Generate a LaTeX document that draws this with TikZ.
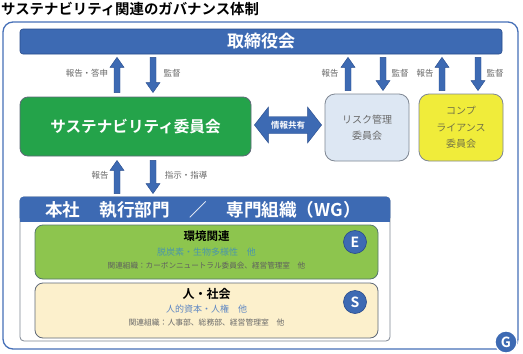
\documentclass[tikz,border=0pt]{standalone}
\usepackage{fontspec}
\setmainfont{Noto Sans CJK JP}[BoldFont={Noto Sans CJK JP Bold}]
\usetikzlibrary{calc}
\definecolor{barblue}{RGB}{61,106,179}
\definecolor{bardark}{RGB}{40,75,140}
\definecolor{framec}{RGB}{70,112,184}
\definecolor{susgreen}{RGB}{36,163,74}
\definecolor{envgreen}{RGB}{141,197,78}
\definecolor{cream}{RGB}{252,240,204}
\definecolor{risklb}{RGB}{221,231,243}
\definecolor{compy}{RGB}{240,236,58}
\definecolor{lblgray}{RGB}{105,105,105}
\definecolor{olivet}{RGB}{115,115,70}
\definecolor{tealt}{RGB}{75,150,170}
\definecolor{sblue}{RGB}{95,135,195}
\definecolor{boxedge}{RGB}{95,105,120}
\begin{document}
\begin{tikzpicture}[x=1pt,y=-1pt,
  box/.style={draw=boxedge, line width=0.8pt, rounded corners=#1, inner sep=0pt},
  box/.default=8pt,
  lbl/.style={text=lblgray, font=\fontsize{8.5}{10}\selectfont, inner sep=0pt},
  circ/.style={circle, fill=barblue, draw=bardark, line width=0.6pt, minimum size=23pt, inner sep=0pt, text=white, font=\bfseries\fontsize{14}{14}\selectfont},
  blockarr/.style={fill=barblue, draw=bardark, line width=0.4pt,
    to path={let \p1=(\tikztostart), \p2=(\tikztotarget), \n1={sign(\y2-\y1)} in
      ({\x1-3pt},\y1) -- ({\x1-3pt},{\y2-\n1*10pt}) -- ({\x1-7pt},{\y2-\n1*10pt}) -- (\x1,\y2)
      -- ({\x1+7pt},{\y2-\n1*10pt}) -- ({\x1+3pt},{\y2-\n1*10pt}) -- ({\x1+3pt},\y1) -- cycle}}
]
\useasboundingbox (0,0) rectangle (523,354);
\fill[white] (0,0) rectangle (523,354);

% title
\node[anchor=west, inner sep=0pt, font=\bfseries\fontsize{14.4}{16}\selectfont] (title) at (1,9) {サステナビリティ関連のガバナンス体制};

% outer frame
\node[draw=framec, line width=1.3pt, rounded corners=10pt, minimum width=515pt, minimum height=327pt, inner sep=0pt] (frame) at (260.5,185.5) {};

% board
\node[fill=barblue, draw=bardark, line width=0.6pt, rounded corners=3pt, minimum width=482pt, minimum height=25pt, inner sep=0pt, text=white, font=\bfseries\fontsize{17}{18}\selectfont] (board) at (261,41.5) {取締役会};

% committees
\node[box, fill=susgreen, draw=boxedge, minimum width=231pt, minimum height=59pt, text=white, font=\bfseries\fontsize{15.6}{16}\selectfont] (sus) at (135.5,126.5) {サステナビリティ委員会};
\node[box=10pt, fill=risklb, draw=boxedge!80, minimum width=84pt, minimum height=67pt, text=lblgray, align=center, font=\fontsize{10}{16}\selectfont] (risk) at (367,127.5) {リスク管理\\委員会};
\node[box=10pt, fill=compy, draw=boxedge!80, minimum width=84pt, minimum height=67pt, text=olivet, align=center, font=\fontsize{10}{16.5}\selectfont] (comp) at (461,127.5) {コンプ\\ライアンス\\委員会};

% arrow x positions
\coordinate (a1) at (117,0);
\coordinate (a2) at (153,0);
\coordinate (a3) at (348,0);
\coordinate (a4) at (383,0);
\coordinate (a5) at (442,0);
\coordinate (a6) at (478,0);

\path[blockarr] ($(sus.north -| a1)+(0,-4)$) to ($(board.south -| a1)+(0,3)$);
\path[blockarr] ($(board.south -| a2)+(0,3)$) to ($(sus.north -| a2)+(0,-4)$);
\path[blockarr] ($(risk.north -| a3)+(0,-3)$) to ($(board.south -| a3)+(0,3)$);
\path[blockarr] ($(board.south -| a4)+(0,3)$) to ($(risk.north -| a4)+(0,-3)$);
\path[blockarr] ($(comp.north -| a5)+(0,-3)$) to ($(board.south -| a5)+(0,3)$);
\path[blockarr] ($(board.south -| a6)+(0,3)$) to ($(comp.north -| a6)+(0,-3)$);

\node[lbl] (l1) at (87,73) {報告・答申};
\node[lbl] (l2) at (172,73) {監督};
\node[lbl] (l3) at (330,73) {報告};
\node[lbl] (l4) at (400,73) {監督};
\node[lbl] (l5) at (425,73) {報告};
\node[lbl] (l6) at (495,73) {監督};

% information sharing double arrow
\coordinate (infoc) at (288,125);
\path[fill=barblue, draw=bardark, line width=0.4pt] let \p1=(sus.east), \p2=(risk.west), \p3=(infoc) in
  ({\x1+3pt},\y3) -- ({\x1+17pt},{\y3+18pt}) -- ({\x1+17pt},{\y3+8.5pt}) -- ({\x2-17pt},{\y3+8.5pt})
  -- ({\x2-17pt},{\y3+18pt}) -- ({\x2-3pt},\y3) -- ({\x2-17pt},{\y3-18pt}) -- ({\x2-17pt},{\y3-8.5pt})
  -- ({\x1+17pt},{\y3-8.5pt}) -- ({\x1+17pt},{\y3-18pt}) -- cycle;
\node[text=white, inner sep=0pt, font=\bfseries\fontsize{8.5}{10}\selectfont] (info) at (infoc) {情報共有};

% executive / WG container
\node[draw=boxedge!80, line width=0.8pt, fill=white, rounded corners=4pt, minimum width=370pt, minimum height=144pt, inner sep=0pt] (cont) at (205,269) {};
\fill[barblue, rounded corners=4pt] (cont.north west) rectangle ($(cont.north east)+(0,25)$);
\fill[barblue] ($(cont.north west)+(0,14)$) rectangle ($(cont.north east)+(0,25)$);
\node[text=white, inner sep=0pt, font=\bfseries\fontsize{17.6}{18}\selectfont] (hdr) at (203,209.5) {本社\hspace{1.1em}執行部門\hspace{1.1em}／\hspace{1.1em}専門組織（WG）};

\path[blockarr] ($(cont.north -| a1)+(0,-3)$) to ($(sus.south -| a1)+(0,4)$);
\path[blockarr] ($(sus.south -| a2)+(0,4)$) to ($(cont.north -| a2)+(0,-3)$);
\node[lbl] (l7) at (100,175) {報告};
\node[lbl] (l8) at (186,175) {指示・指導};

% environment
\node[box, fill=envgreen, draw=boxedge!90!green, minimum width=343pt, minimum height=54pt] (env) at (206.5,252) {};
\node[inner sep=0pt, font=\bfseries\fontsize{11.5}{12}\selectfont] (envt) at (206.5,236) {環境関連};
\node[inner sep=0pt, text=tealt, font=\fontsize{9}{10}\selectfont] (envs) at (206.5,252) {脱炭素・生物多様性\hspace{1em}他};
\node[inner sep=0pt, text=lblgray!90!black, font=\fontsize{7.6}{9}\selectfont] (envo) at (206.5,265.5) {関連組織：カーボンニュートラル委員会、経営管理室\hspace{1em}他};
\node[circ] (ec) at (355,242) {E};

% social
\node[box, fill=cream, draw=boxedge, minimum width=343pt, minimum height=55pt] (soc) at (206.5,310.5) {};
\node[inner sep=0pt, font=\bfseries\fontsize{12}{12}\selectfont] (soct) at (206.5,294) {人・社会};
\node[inner sep=0pt, text=sblue, font=\fontsize{9}{10}\selectfont] (socs) at (206.5,309) {人的資本・人権\hspace{1em}他};
\node[inner sep=0pt, text=lblgray, font=\fontsize{7.8}{9}\selectfont] (soco) at (206.5,322.5) {関連組織：人事部、総務部、経営管理室\hspace{1em}他};
\node[circ] (sc) at (355,302) {S};

% G badge
\node[circ, draw=white, line width=1.2pt, minimum size=22pt] (gc) at (506,342) {G};
\end{tikzpicture}
\end{document}
